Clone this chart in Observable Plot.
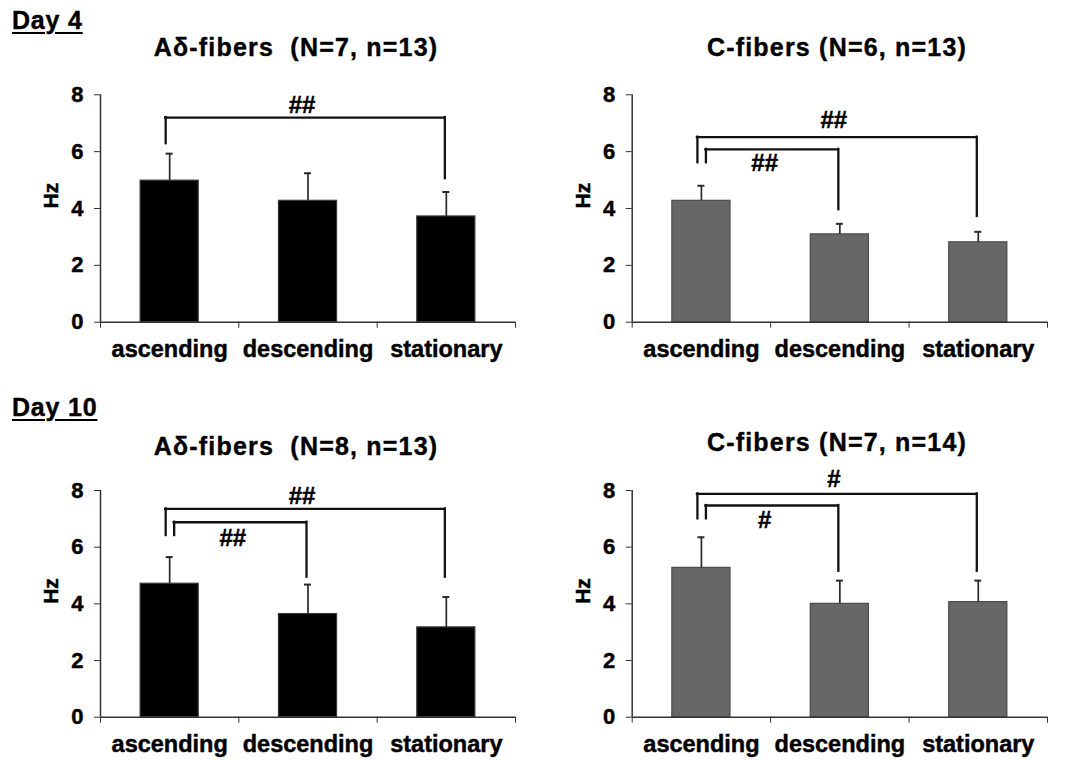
<!DOCTYPE html>
<html><head><meta charset="utf-8">
<script src="https://cdn.jsdelivr.net/npm/d3@7"></script>
<script src="https://cdn.jsdelivr.net/npm/@observablehq/plot@0.6"></script>
<style>
body{margin:0;background:#fff;}
#root{position:relative;width:1075px;height:761px;overflow:hidden;font-family:"Liberation Sans",Arial,sans-serif;font-weight:bold;color:#000;background:#fff;}
.day{font-size:25px;line-height:1;text-decoration:underline;text-decoration-thickness:2px;text-underline-offset:3px;letter-spacing:0.8px;-webkit-text-stroke:0.4px #000;}
.title{font-size:25px;line-height:1;text-align:center;width:500px;white-space:pre;letter-spacing:1.2px;-webkit-text-stroke:0.4px #000;}
svg text{paint-order:stroke;stroke:#000;stroke-width:0.45px;}
</style></head><body><div id="root"></div>
<script>
// ---- data ----
const categories = ["ascending", "descending", "stationary"];

const day4AdMean = [4.98, 4.27, 3.72];
const day4AdErr  = [0.95, 0.97, 0.86];
const day4CMean  = [4.27, 3.09, 2.81];
const day4CErr   = [0.53, 0.37, 0.37];
const day10AdMean = [4.71, 3.64, 3.17];
const day10AdErr  = [0.94, 1.04, 1.07];
const day10CMean  = [5.27, 4.00, 4.06];
const day10CErr   = [1.08, 0.82, 0.76];

const yTicks = [0, 2, 4, 6, 8];

// significance brackets: from/to category index, heights in Hz
const day4AdBrackets = [
  {from: 0, to: 2, level: "outer", top: 7.2, leftDrop: 6.28, rightDrop: 5.05, label: "##", labelY: 7.63}
];
const day4CBrackets = [
  {from: 0, to: 2, level: "outer", top: 6.51, leftDrop: 5.61, rightDrop: 3.72, label: "##", labelY: 7.1},
  {from: 0, to: 1, level: "inner", top: 6.08, leftDrop: 5.61, rightDrop: 3.96, label: "##", labelY: 5.58}
];
const day10AdBrackets = [
  {from: 0, to: 2, level: "outer", top: 7.35, leftDrop: 6.41, rightDrop: 4.94, label: "##", labelY: 7.79},
  {from: 0, to: 1, level: "inner", top: 6.88, leftDrop: 6.41, rightDrop: 4.94, label: "##", labelY: 6.3}
];
const day10CBrackets = [
  {from: 0, to: 2, level: "outer", top: 7.88, leftDrop: 7.0, rightDrop: 5.15, label: "#", labelY: 8.41},
  {from: 0, to: 1, level: "inner", top: 7.47, leftDrop: 7.0, rightDrop: 5.15, label: "#", labelY: 6.94}
];

const dayLabels = ["Day 4", "Day 10"];
const titles = ["A\u03b4-fibers  (N=7, n=13)", "C-fibers (N=6, n=13)", "A\u03b4-fibers  (N=8, n=13)", "C-fibers (N=7, n=14)"];

// ---- drawing ----
function panel({means, errs, brackets, fill, stroke, width, height, marginLeft, marginRight, marginTop, marginBottom}) {
  const rows = categories.map((c, i) => ({c, pos: i + 0.5, mean: means[i], top: means[i] + errs[i]}));
  const half = 0.21;
  const ink = "#111";
  const marks = [
    Plot.rectY(rows, {x1: d => d.pos - half, x2: d => d.pos + half, y1: 0, y2: "mean", fill, stroke, strokeWidth: 1.2}),
    Plot.ruleX(rows, {x: "pos", y1: "mean", y2: "top", stroke: "#2a2a2a", strokeWidth: 1.7}),
    Plot.ruleY(rows, {y: "top", x1: "pos", x2: "pos", insetLeft: -3.5, insetRight: -3.5, stroke: "#2a2a2a", strokeWidth: 2}),
    Plot.ruleX([0], {stroke: "#333", strokeWidth: 1.5}),
    Plot.ruleY([0], {stroke: "#333", strokeWidth: 1.5}),
    Plot.axisY({ticks: yTicks, tickSize: 6, tickPadding: 11, fontSize: 22, tickFormat: d3.format("d"), label: null, stroke: "#333"}),
    Plot.axisX({ticks: [0, 1, 2, 3], tickSize: 6, tickFormat: () => "", label: null, stroke: "#333"}),
    Plot.axisX({ticks: [0.5, 1.5, 2.5], tickSize: 0, tickPadding: 18, fontSize: 23.5, tickFormat: d => categories[Math.floor(d)], label: null}),
    Plot.text(["Hz"], {frameAnchor: "left", dx: -49, rotate: -90, fontSize: 21, fontWeight: "bold", fill: "#000"})
  ];
  for (const b of brackets) {
    const L = b.from + 0.5, R = b.to + 0.5;
    const ldx = b.level === "outer" ? -4 : 4.5;
    const rdx = -1.5;
    const common = {stroke: ink, strokeWidth: 2.3, strokeLinecap: "square"};
    marks.push(
      Plot.ruleY([b], {y: "top", x1: () => L, x2: () => R, insetLeft: ldx, insetRight: -rdx, ...common}),
      Plot.ruleX([b], {x: () => L, y1: "leftDrop", y2: "top", dx: ldx, ...common}),
      Plot.ruleX([b], {x: () => R, y1: "rightDrop", y2: "top", dx: rdx, ...common}),
      Plot.text([b], {x: () => (L + R) / 2, y: "labelY", text: "label", dx: -6, fontSize: 24, fontWeight: "bold", fill: "#000"})
    );
  }
  return Plot.plot({
    width, height, marginLeft, marginRight, marginTop, marginBottom,
    x: {type: "linear", domain: [0, 3]},
    y: {domain: [0, 8]},
    style: {fontFamily: "'Liberation Sans', Arial, sans-serif", fontWeight: "bold", color: "#000", background: "transparent", overflow: "visible"},
    marks
  });
}

const root = document.getElementById("root");
function place(el, left, top) {
  el.style.position = "absolute";
  el.style.left = left + "px";
  el.style.top = top + "px";
  root.appendChild(el);
}
function textDiv(cls, txt) {
  const d = document.createElement("div");
  d.className = cls;
  d.textContent = txt;
  return d;
}

// day labels
place(textDiv("day", dayLabels[0]), 12, 8);
place(textDiv("day", dayLabels[1]), 12, 395);
// titles (centered)
place(textDiv("title", titles[0]), 296 - 250, 35);
place(textDiv("title", titles[1]), 837 - 250, 35);
place(textDiv("title", titles[2]), 296 - 250, 434);
place(textDiv("title", titles[3]), 837 - 250, 430);

const black = {fill: "#000", stroke: "#3a3a3a"};
const gray = {fill: "#676767", stroke: "#4a4a4a"};

place(panel({means: day4AdMean, errs: day4AdErr, brackets: day4AdBrackets, ...black,
  width: 537, height: 305, marginLeft: 100, marginRight: 22, marginTop: 19.3, marginBottom: 58.3}), 0, 75);
place(panel({means: day4CMean, errs: day4CErr, brackets: day4CBrackets, ...gray,
  width: 538, height: 305, marginLeft: 94.7, marginRight: 28, marginTop: 19.3, marginBottom: 58.3}), 537, 75);
place(panel({means: day10AdMean, errs: day10AdErr, brackets: day10AdBrackets, ...black,
  width: 537, height: 301, marginLeft: 100, marginRight: 22, marginTop: 30, marginBottom: 44.3}), 0, 460);
place(panel({means: day10CMean, errs: day10CErr, brackets: day10CBrackets, ...gray,
  width: 538, height: 301, marginLeft: 94.7, marginRight: 28, marginTop: 30, marginBottom: 44.3}), 537, 460);
</script>
</body></html>
